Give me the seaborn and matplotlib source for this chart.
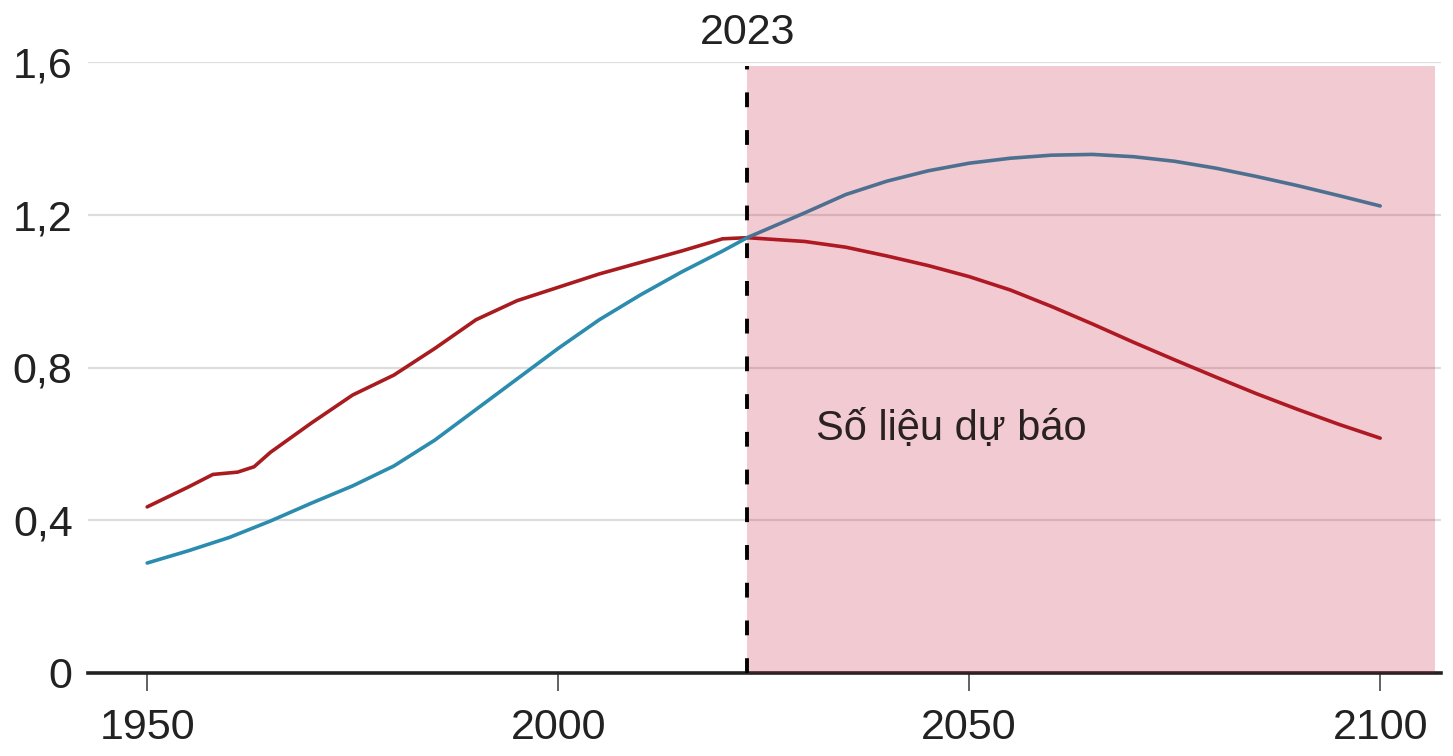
# plot.py
# Two population curves 1950-2100 with projected period shaded after 2023

import pandas as pd
import matplotlib.pyplot as plt
import seaborn as sns

# Data
red_years = [1950, 1955, 1958, 1961, 1963, 1965, 1970, 1975, 1980, 1985, 1990,
             1995, 2000, 2005, 2010, 2015, 2020, 2023, 2030, 2035, 2040, 2045,
             2050, 2055, 2060, 2065, 2070, 2075, 2080, 2085, 2090, 2095, 2100]
red_values = [0.435, 0.487, 0.52, 0.526, 0.54, 0.578, 0.655, 0.728, 0.78, 0.85,
              0.925, 0.975, 1.01, 1.045, 1.075, 1.105, 1.137, 1.14, 1.13, 1.115,
              1.092, 1.067, 1.038, 1.003, 0.96, 0.914, 0.866, 0.82, 0.775, 0.731,
              0.69, 0.651, 0.615]

blue_years = [1950, 1955, 1960, 1965, 1970, 1975, 1980, 1985, 1990, 1995, 2000,
              2005, 2010, 2015, 2020, 2023, 2030, 2035, 2040, 2045, 2050, 2055,
              2060, 2065, 2070, 2075, 2080, 2085, 2090, 2095, 2100]
blue_values = [0.288, 0.32, 0.355, 0.398, 0.445, 0.49, 0.542, 0.61, 0.69, 0.77,
               0.85, 0.925, 0.99, 1.05, 1.105, 1.14, 1.205, 1.253, 1.288, 1.315,
               1.335, 1.348, 1.356, 1.358, 1.352, 1.34, 1.322, 1.30, 1.276,
               1.25, 1.223]

y_ticks = [0, 0.4, 0.8, 1.2, 1.6]
y_tick_labels = ["0", "0,4", "0,8", "1,2", "1,6"]
x_ticks = [1950, 2000, 2050, 2100]
split_year = 2023
forecast_label = "Số liệu dự báo"

red_df = pd.DataFrame({"year": red_years, "value": red_values})
blue_df = pd.DataFrame({"year": blue_years, "value": blue_values})

sns.set_theme(style="white")
plt.rcParams["font.family"] = ["Liberation Sans", "DejaVu Sans"]

fig = plt.figure(figsize=(14.53, 7.56), dpi=100)
ax = fig.add_axes([88 / 1453, 83 / 756, 1353 / 1453, 611 / 756])

sns.lineplot(data=red_df, x="year", y="value", ax=ax, color="#a81c20",
             linewidth=2.6, zorder=2)
sns.lineplot(data=blue_df, x="year", y="value", ax=ax, color="#2b8cae",
             linewidth=2.6, zorder=2)

ax.set_xlim(1942.8, 2107.4)
ax.set_ylim(0, 1.6)

# forecast shading, drawn over the lines
ax.axvspan(split_year, 2106.7, ymin=0, ymax=1.59 / 1.6, color="#c8102e",
           alpha=0.22, lw=0, zorder=3)
ax.plot([split_year, split_year], [0, 1.59], color="black", lw=2.8,
        linestyle=(0, (3.8, 5.9)), zorder=4)

ax.text(split_year, 1.6 + 18 / 611 * 1.6, str(split_year), ha="center",
        va="baseline", fontsize=31, color="#222222")
ax.text(2031.4, 0.61, forecast_label, ha="left", va="baseline",
        fontsize=30, color="#2a2222", zorder=5)

ax.set_yticks(y_ticks)
ax.set_yticklabels(y_tick_labels)
ax.set_xticks(x_ticks)
ax.set_xticklabels([str(t) for t in x_ticks])
ax.tick_params(axis="y", length=0, pad=11, labelsize=31, labelcolor="#222222")
ax.tick_params(axis="x", length=13, width=1.3, color="#555555", pad=12,
               labelsize=31, labelcolor="#222222", bottom=True)

ax.grid(axis="y", color="#dddddd", linewidth=1.6, zorder=0)
ax.set_axisbelow(True)
for side in ["top", "right", "left"]:
    ax.spines[side].set_visible(False)
ax.spines["bottom"].set_color("#222222")
ax.spines["bottom"].set_linewidth(2.6)
ax.set_xlabel("")
ax.set_ylabel("")

fig.savefig("out.png", dpi=100)
plt.close(fig)
